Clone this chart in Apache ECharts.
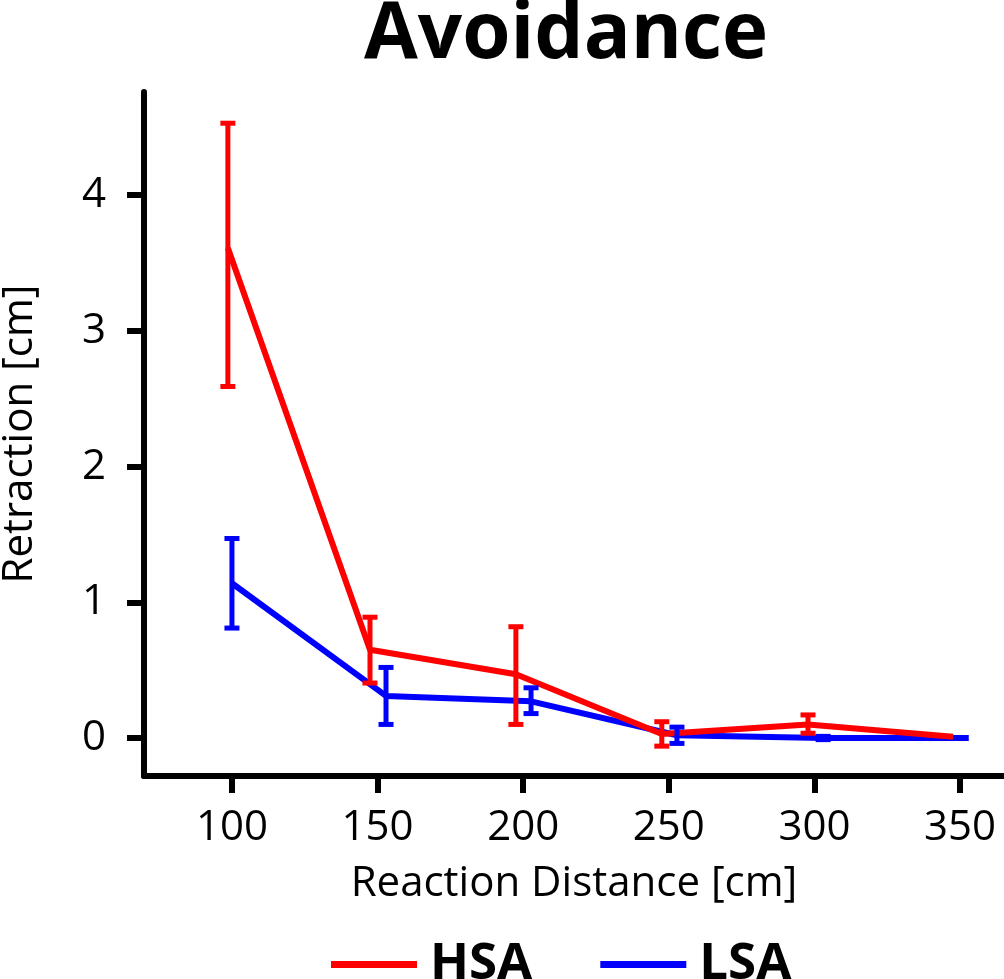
<!DOCTYPE html>
<html>
<head>
<meta charset="utf-8">
<script src="https://cdn.jsdelivr.net/npm/echarts@6/dist/echarts.min.js"></script>
<style>
  html, body { margin: 0; padding: 0; background: #fff; }
  #main { width: 1004px; height: 979px; }
</style>
</head>
<body>
<div id="main"></div>
<script>
// reaction distance ticks (cm)
var xTicks = [100, 150, 200, 250, 300, 350];
var yTicks = [0, 1, 2, 3, 4];

// HSA (dodged slightly left)
var hsaX    = [98.6, 147.4, 197.5, 247.6, 297.8, 347.6];
var hsaMean = [3.61, 0.65, 0.47, 0.03, 0.10, 0.01];
var hsaLo   = [2.59, 0.405, 0.10, -0.06, 0.035, 0.01];
var hsaHi   = [4.53, 0.89, 0.82, 0.12, 0.17, 0.01];

// LSA (dodged slightly right)
var lsaX    = [100, 152.9, 202.7, 252.8, 303, 353];
var lsaMean = [1.14, 0.31, 0.27, 0.02, 0.00, 0.00];
var lsaLo   = [0.81, 0.10, 0.18, -0.04, -0.012, 0.00];
var lsaHi   = [1.47, 0.52, 0.37, 0.08, 0.012, 0.00];

var RED = '#ff0000', BLUE = '#0000ff';
var FONT = '"Open Sans", "DejaVu Sans", sans-serif';

function zip(xs, ys) {
    return xs.map(function (x, i) { return [x, ys[i]]; });
}
function zip3(xs, lo, hi) {
    var out = [];
    xs.forEach(function (x, i) {
        if (hi[i] > lo[i]) out.push([x, lo[i], hi[i]]);
    });
    return out;
}

function errorBar(color) {
    return function (params, api) {
        var lo = api.coord([api.value(0), api.value(1)]);
        var hi = api.coord([api.value(0), api.value(2)]);
        var half = 7.5;
        var style = { stroke: color, lineWidth: 5 };
        return {
            type: 'group',
            children: [
                { type: 'line', shape: { x1: lo[0], y1: lo[1], x2: hi[0], y2: hi[1] }, style: style },
                { type: 'line', shape: { x1: lo[0] - half, y1: lo[1], x2: lo[0] + half, y2: lo[1] }, style: style },
                { type: 'line', shape: { x1: hi[0] - half, y1: hi[1], x2: hi[0] + half, y2: hi[1] }, style: style }
            ]
        };
    };
}

var chart = echarts.init(document.getElementById('main'), null, { renderer: 'canvas' });

var option = {
    backgroundColor: '#fff',
    animation: false,
    title: {
        text: 'Avoidance',
        left: 364,
        top: -3,
        padding: 0,
        textStyle: { fontFamily: FONT, fontWeight: 'bold', fontSize: 78, color: '#000' }
    },
    legend: {
        left: 331,
        top: 939,
        padding: 0,
        itemWidth: 86,
        itemHeight: 7,
        itemGap: 68,
        icon: 'rect',
        data: ['HSA', 'LSA'],
        textStyle: { fontFamily: FONT, fontWeight: 'bold', fontSize: 51, color: '#000', padding: [0, 0, 0, 8] }
    },
    grid: { left: 144, right: 0, top: 92, bottom: 203, containLabel: false, outerBoundsMode: 'none' },
    xAxis: {
        type: 'value',
        min: 69.8,
        max: 365.1,
        name: 'Reaction Distance [cm]',
        nameLocation: 'middle',
        nameGap: 87,
        nameTextStyle: { fontFamily: FONT, fontSize: 42, color: '#000' },
        axisLine: { onZero: false, lineStyle: { color: '#000', width: 6 } },
        axisTick: { show: true, length: 17, lineStyle: { width: 6, color: '#000' }, customValues: xTicks },
        axisLabel: { margin: 31, fontFamily: FONT, fontSize: 42, color: '#000', customValues: xTicks },
        splitLine: { show: false }
    },
    yAxis: {
        type: 'value',
        min: -0.28,
        max: 4.76,
        name: 'Retraction [cm]',
        nameLocation: 'middle',
        nameGap: 103,
        nameTextStyle: { fontFamily: FONT, fontSize: 42, color: '#000' },
        axisLine: { show: true, onZero: false, lineStyle: { color: '#000', width: 6 } },
        axisTick: { show: true, length: 17, lineStyle: { width: 6, color: '#000' }, customValues: yTicks },
        axisLabel: { margin: 38, fontFamily: FONT, fontSize: 42, color: '#000', customValues: yTicks },
        splitLine: { show: false }
    },
    series: [
        {
            name: 'LSA',
            type: 'line',
            z: 2,
            data: zip(lsaX, lsaMean),
            showSymbol: false,
            symbol: 'none',
            color: BLUE,
            lineStyle: { color: BLUE, width: 6 }
        },
        {
            name: 'HSA',
            type: 'line',
            z: 3,
            data: zip(hsaX, hsaMean),
            showSymbol: false,
            symbol: 'none',
            color: RED,
            lineStyle: { color: RED, width: 6 }
        },
        {
            name: 'HSA',
            type: 'custom',
            z: 4,
            renderItem: errorBar(RED),
            encode: { x: 0, y: [1, 2] },
            data: zip3(hsaX, hsaLo, hsaHi)
        },
        {
            name: 'LSA',
            type: 'custom',
            z: 5,
            renderItem: errorBar(BLUE),
            encode: { x: 0, y: [1, 2] },
            data: zip3(lsaX, lsaLo, lsaHi)
        }
    ]
};

chart.setOption(option);
</script>
</body>
</html>
